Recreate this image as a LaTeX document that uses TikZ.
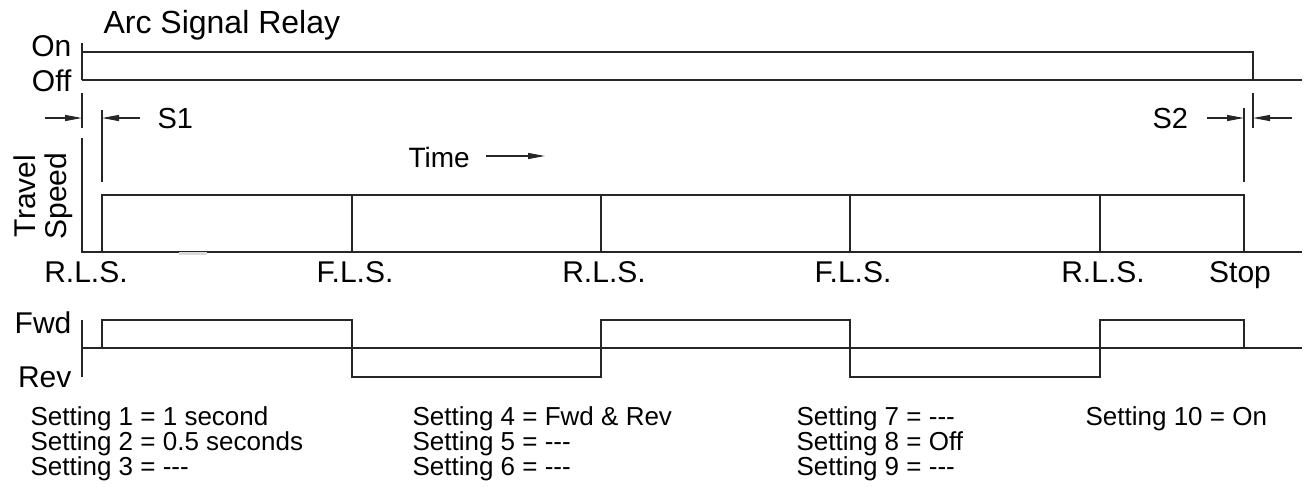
\documentclass[tikz,border=0pt]{standalone}
\usepackage{fontspec}
\setmainfont{Liberation Sans}
\usetikzlibrary{arrows.meta}
\newcommand{\tripledash}{\mbox{-}\mbox{-}\mbox{-}}
\begin{document}
\begin{tikzpicture}[x=1pt,y=-1pt,line width=1.2pt,
  lbl/.style={font=\fontsize{30}{30}\selectfont,inner sep=0pt},
  setg/.style={font=\fontsize{26}{26}\selectfont,inner sep=0pt,anchor=base west},
  dimarrow/.style={-{Triangle[length=17pt,width=6pt]}},
  sig/.style={line width=1.2pt,color=black!85}]
\useasboundingbox (0,0) rectangle (1307,496);
% ---------- Arc signal relay ----------
\node[font=\fontsize{32}{32}\selectfont,inner sep=0pt,anchor=base west] (title) at (103,33) {Arc Signal Relay};
\node[lbl,anchor=base east] (on) at (72,56) {On};
\node[lbl,anchor=base east] (off) at (72,91) {Off};
\draw[sig] (82,43) -- (82,80);
\draw[sig] (82,80) -- (1302,80);
\draw[sig] (82,52) -- (1253,52) -- (1253,80);
% S1 dimension
\coordinate (s1a) at (82,93); \coordinate (s1b) at (82,128);
\coordinate (s1c) at (102,110); \coordinate (s1d) at (102,182);
\draw[sig] (s1a) -- (s1b);
\draw[sig] (s1c) -- (s1d);
\coordinate (a1s) at (45,118); \coordinate (a1e) at (82,118);
\coordinate (a2s) at (140,118); \coordinate (a2e) at (102,118);
\draw[sig,dimarrow] (a1s) -- (a1e);
\draw[sig,dimarrow] (a2s) -- (a2e);
\node[font=\fontsize{29}{29}\selectfont,inner sep=0pt,anchor=base west] (s1) at (157,128) {S1};
% S2 dimension
\coordinate (s2a) at (1253,93); \coordinate (s2b) at (1253,128);
\coordinate (s2c) at (1244,108); \coordinate (s2d) at (1244,182);
\draw[sig] (s2a) -- (s2b);
\draw[sig] (s2c) -- (s2d);
\coordinate (b1s) at (1207,118); \coordinate (b1e) at (1244,118);
\coordinate (b2s) at (1292,118); \coordinate (b2e) at (1253,118);
\draw[sig,dimarrow] (b1s) -- (b1e);
\draw[sig,dimarrow] (b2s) -- (b2e);
\node[font=\fontsize{29}{29}\selectfont,inner sep=0pt,anchor=base west] (s2) at (1152,128) {S2};
% ---------- Travel speed ----------
\node[lbl,rotate=90,anchor=base] (travel) at (35,196) {Travel};
\node[lbl,rotate=90,anchor=base] (speed) at (66,196) {Speed};
\node[font=\fontsize{28}{28}\selectfont,inner sep=0pt,anchor=base west] (time) at (408,167) {Time};
\coordinate (t1) at (486,156); \coordinate (t2) at (545,156);
\draw[sig,dimarrow] (t1) -- (t2);
\draw[sig] (82,138) -- (82,252) -- (1302,252);
\draw[black!15,line width=2.5pt] (179,253.5) -- (207,253.5);
\draw[sig] (102,252) -- (102,195) -- (1244,195) -- (1244,252);
\foreach \xx in {352,601,850,1100} \draw[sig] (\xx,195) -- (\xx,252);
\node[lbl,anchor=base] (l1) at (86,282) {R.L.S.};
\node[lbl,anchor=base] (l2) at (355,282) {F.L.S.};
\node[lbl,anchor=base] (l3) at (604,282) {R.L.S.};
\node[lbl,anchor=base] (l4) at (853,282) {F.L.S.};
\node[lbl,anchor=base] (l5) at (1103,282) {R.L.S.};
\node[lbl,anchor=base] (l6) at (1240,282) {Stop};
% ---------- Fwd / Rev ----------
\node[lbl,anchor=base east] (fwd) at (72,333) {Fwd};
\node[lbl,anchor=base east] (rev) at (72,387) {Rev};
\draw[sig] (82,320) -- (82,377);
\draw[sig] (82,348) -- (1302,348);
\draw[sig] (102,348) -- (102,320) -- (352,320) -- (352,377) -- (601,377) -- (601,320)
  -- (850,320) -- (850,377) -- (1100,377) -- (1100,320) -- (1244,320) -- (1244,348);
% ---------- Settings ----------
\node[setg] (st1) at (30,425) {Setting 1 = 1 second};
\node[setg] (st2) at (30,450) {Setting 2 = 0.5 seconds};
\node[setg] (st3) at (30,475) {Setting 3 = \tripledash};
\node[setg] (st4) at (412,425) {Setting 4 = Fwd \& Rev};
\node[setg] (st5) at (412,450) {Setting 5 = \tripledash};
\node[setg] (st6) at (412,475) {Setting 6 = \tripledash};
\node[setg] (st7) at (796,425) {Setting 7 = \tripledash};
\node[setg] (st8) at (796,450) {Setting 8 = Off};
\node[setg] (st9) at (796,475) {Setting 9 = \tripledash};
\node[setg] (st10) at (1085,425) {Setting 10 = On};
\end{tikzpicture}
\end{document}
